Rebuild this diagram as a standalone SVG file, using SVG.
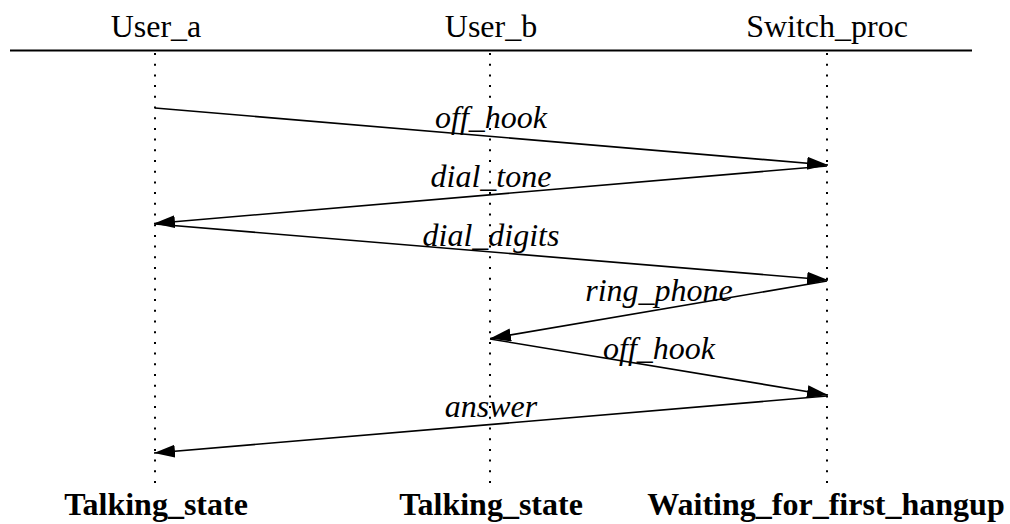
<svg xmlns="http://www.w3.org/2000/svg" width="1010" height="524" viewBox="0 0 1010 524">
<style>
.hdr{font-family:"Liberation Serif","Times New Roman",serif;font-size:32px;text-anchor:middle;fill:#000}
.state{font-family:"Liberation Serif","Times New Roman",serif;font-size:32px;font-weight:bold;text-anchor:middle;fill:#000}
.msg{font-family:"Liberation Serif","Times New Roman",serif;font-size:32px;font-style:italic;text-anchor:middle;fill:#000}
.life{stroke:#000;stroke-width:2;stroke-dasharray:2 8.7;fill:none}
.arrow{stroke:#000;stroke-width:1.6;fill:none;marker-end:url(#ah)}
</style>
<defs>
<marker id="ah" markerUnits="userSpaceOnUse" markerWidth="22" markerHeight="14" refX="21" refY="6.5" orient="auto">
<path d="M0,0 L21,6.5 L0,13 z" fill="#000"/>
</marker>
</defs>
<rect width="1010" height="524" fill="#fff"/>
<line x1="10" y1="50.5" x2="972" y2="50.5" stroke="#000" stroke-width="2"/>
<g id="user_a">
<text class="hdr" x="156" y="37">User_a</text>
<line class="life" x1="155" y1="53" x2="155" y2="490"/>
<text class="state" x="156" y="515">Talking_state</text>
</g>
<g id="user_b">
<text class="hdr" x="491" y="37">User_b</text>
<line class="life" x1="490" y1="53" x2="490" y2="490"/>
<text class="state" x="491" y="515">Talking_state</text>
</g>
<g id="switch_proc">
<text class="hdr" x="827" y="37">Switch_proc</text>
<line class="life" x1="827" y1="53" x2="827" y2="490"/>
<text class="state" x="826" y="515">Waiting_for_first_hangup</text>
</g>
<g id="connectors">
<line class="arrow" x1="155" y1="108" x2="828" y2="165"/>
<line class="arrow" x1="827" y1="166" x2="154" y2="223.5"/>
<line class="arrow" x1="155" y1="224" x2="828" y2="280"/>
<line class="arrow" x1="827" y1="281" x2="490" y2="338.5"/>
<line class="arrow" x1="490" y1="339" x2="828" y2="395"/>
<line class="arrow" x1="827" y1="396" x2="154" y2="453"/>
<text class="msg" x="491" y="128">off_hook</text>
<text class="msg" x="491" y="187">dial_tone</text>
<text class="msg" x="491" y="246">dial_digits</text>
<text class="msg" x="659" y="301">ring_phone</text>
<text class="msg" x="659" y="359">off_hook</text>
<text class="msg" x="491" y="417">answer</text>
</g>
</svg>
